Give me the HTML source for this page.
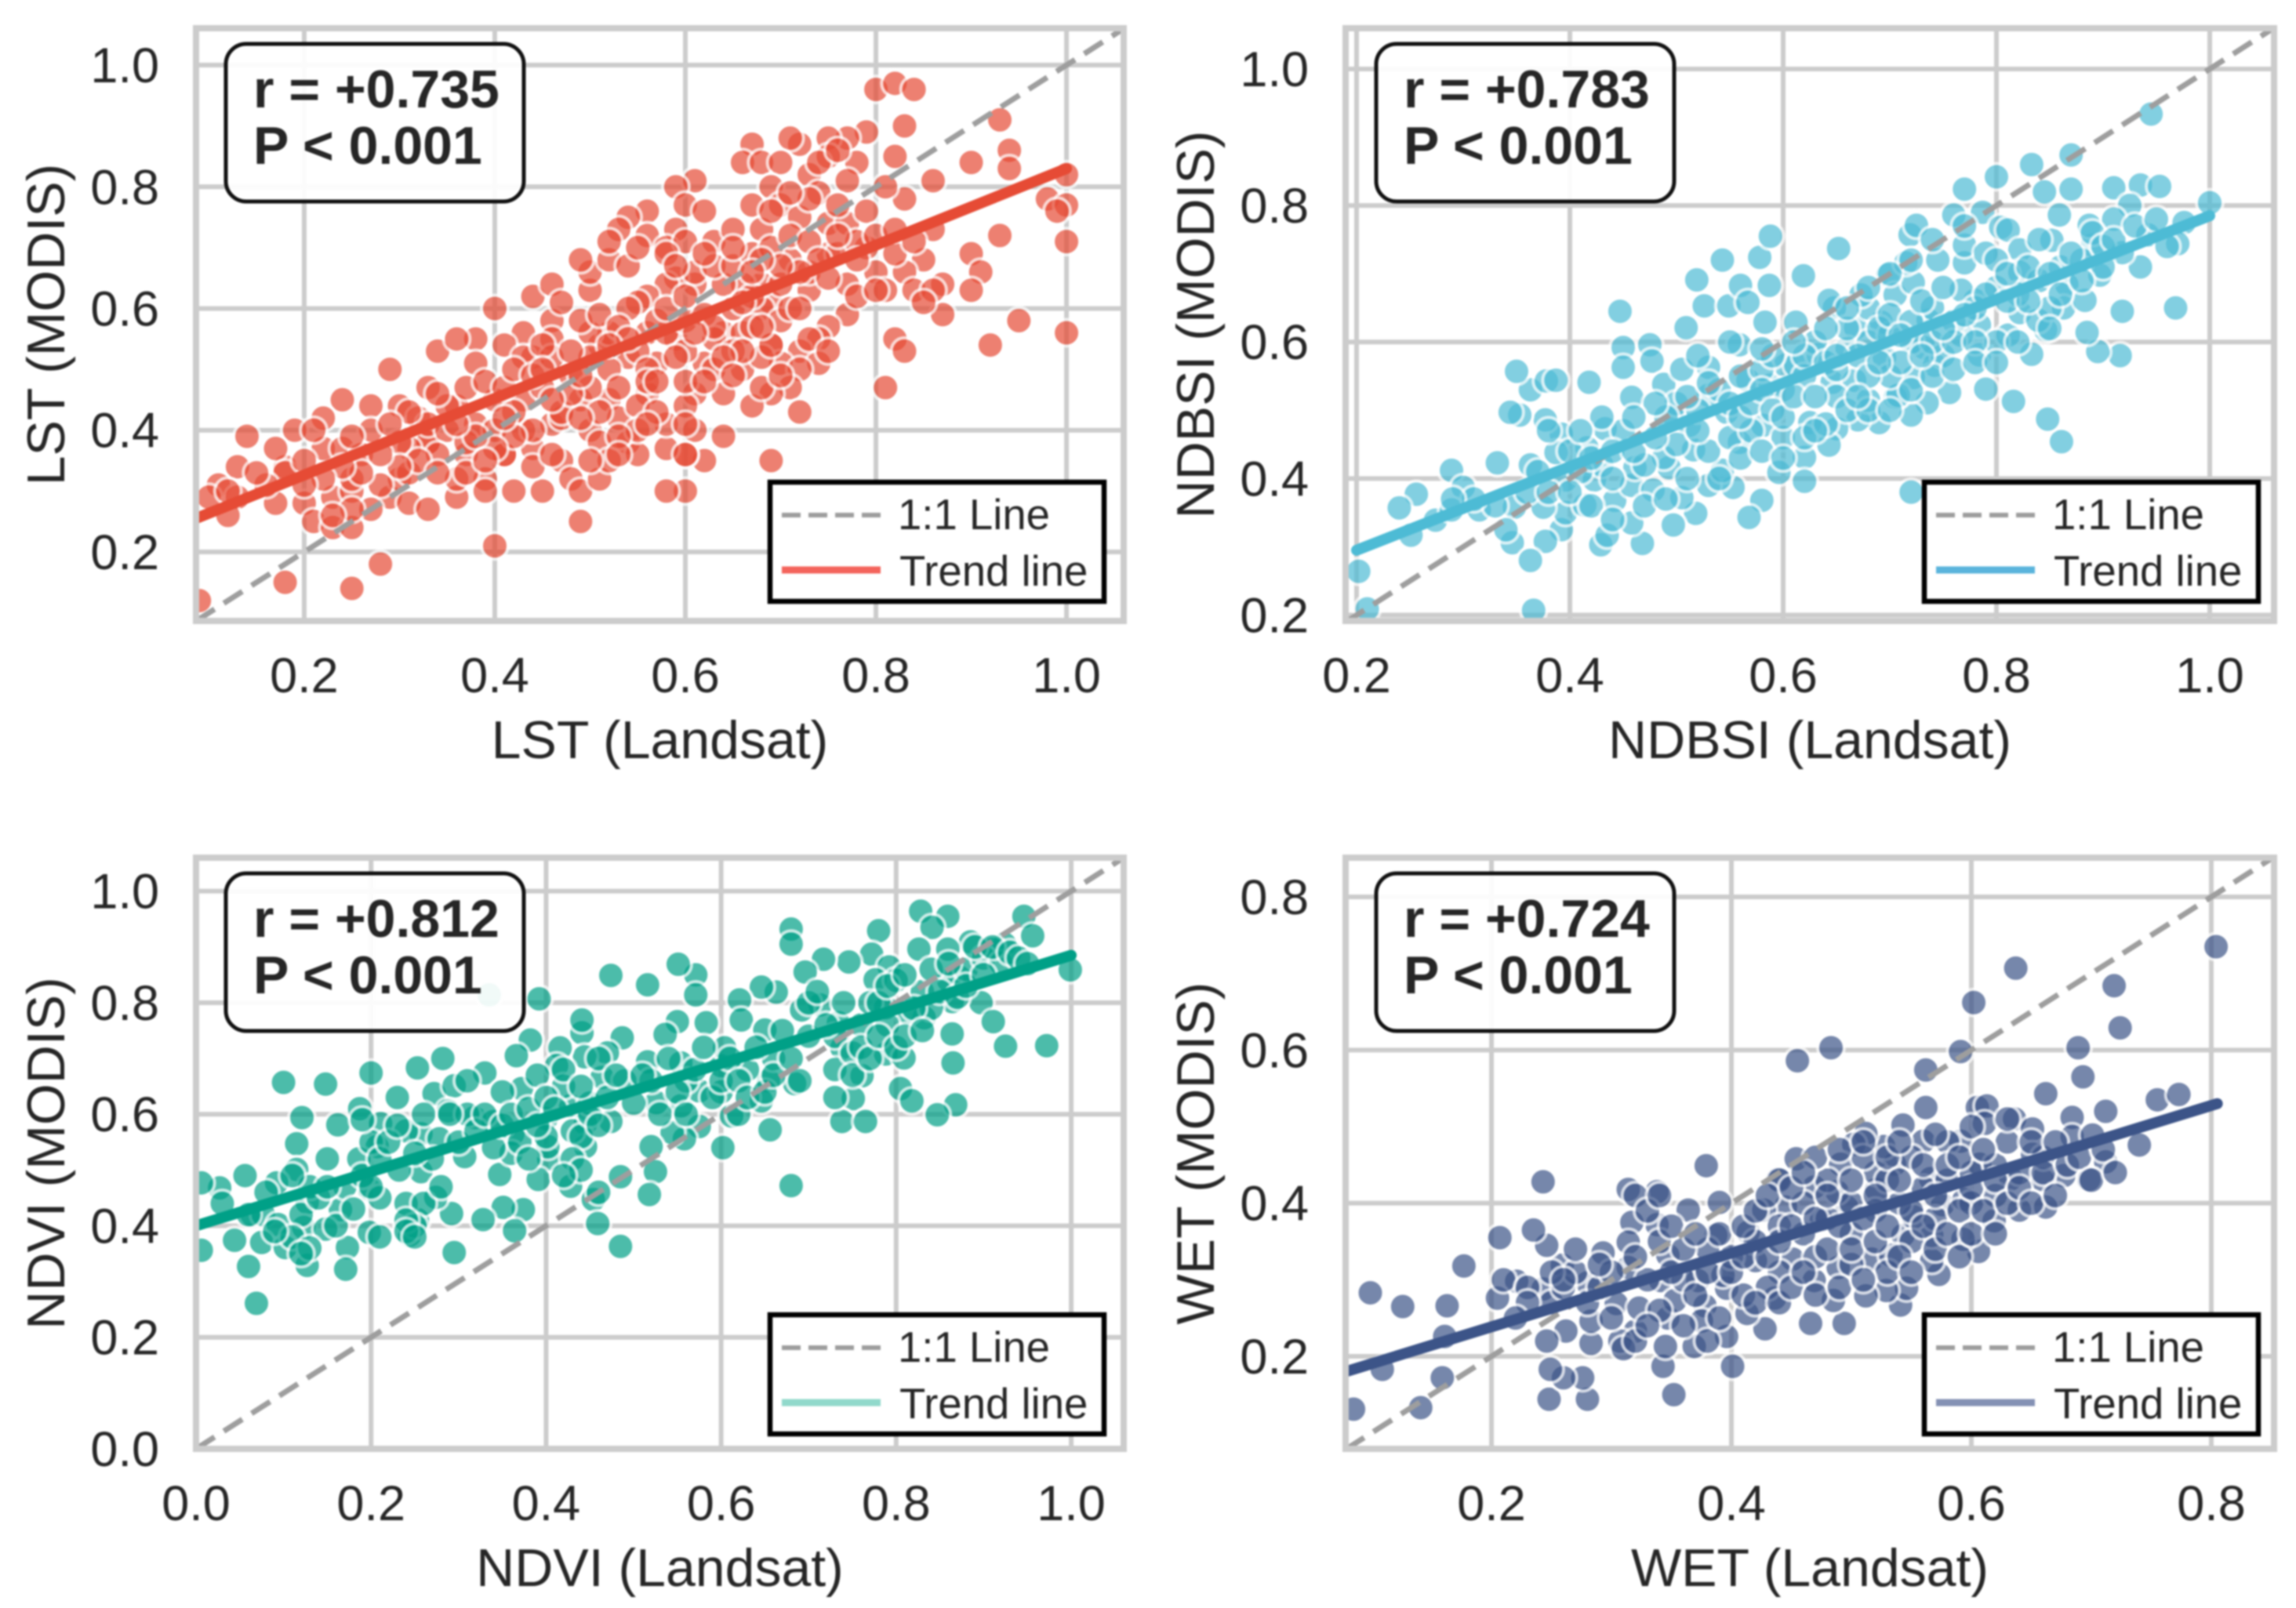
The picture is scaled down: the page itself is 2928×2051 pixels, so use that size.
<!DOCTYPE html>
<html>
<head>
<meta charset="utf-8">
<title>Landsat vs MODIS scatter panels</title>
<style>
html,body{margin:0;padding:0;background:#fff;}
svg{display:block;filter:blur(1.1px);}
text{font-family:"Liberation Sans",Arial,sans-serif;fill:#262626;}
</style>
</head>
<body>
<svg id="chart" xmlns="http://www.w3.org/2000/svg" width="2928" height="2051" viewBox="0 0 2928 2051"></svg>
<script>
const lstXTicks=[0.2,0.4,0.6,0.8,1.0];
const lstYTicks=[0.2,0.4,0.6,0.8,1.0];
const lstTrend=[[0.0865,0.255],[1.0,0.83]];
const lstPoints=[[.80,.96],[.82,.97],[.84,.96],[.83,.90],[.79,.89],[.77,.88],[.75,.88],[.72,.87],[.71,.88],[.67,.87],[.66,.84],[.68,.84],[.70,.84],[.73,.82],[.75,.85],[.78,.84],[.82,.85],[.93,.91],[.94,.86],[.90,.84],[1.0,.82],[.94,.83],[.98,.78],[1.0,.77],[.99,.76],[1.0,.71],[1.0,.56],[.95,.58],[.92,.54],[.93,.72],[.90,.69],[.91,.66],[.90,.63],[.87,.59],[.87,.64],[.85,.68],[.83,.66],[.86,.81],[.86,.73],[.83,.78],[.81,.80],[.77,.81],[.74,.79],[.69,.80],[.67,.77],[.61,.81],[.59,.80],[.60,.77],[.62,.76],[.56,.76],[.54,.75],[.53,.73],[.56,.72],[.59,.73],[.58,.70],[.60,.71],[.63,.71],[.65,.73],[.68,.73],[.70,.77],[.72,.75],[.75,.74],[.77,.74],[.79,.76],[.76,.77],[.71,.68],[.79,.70],[.82,.69],[.80,.66],[.81,.63],[.84,.63],[.86,.63],[.82,.55],[.83,.53],[.81,.47],[.77,.59],[.75,.57],[.77,.64],[.75,.69],[.73,.63],[.69,.61],[.68,.60],[.70,.58],[.74,.55],[.72,.53],[.69,.54],[.70,.51],[.74,.51],[.72,.50],[.71,.47],[.69,.46],[.72,.43],[.69,.35],[.67,.44],[.66,.50],[.68,.52],[.64,.39],[.62,.35],[.60,.36],[.60,.30],[.58,.30],[.61,.40],[.61,.46],[.64,.46],[.64,.56],[.66,.56],[.68,.64],[.66,.64],[.64,.64],[.61,.64],[.59,.65],[.58,.64],[.56,.62],[.55,.61],[.54,.60],[.56,.56],[.51,.54],[.52,.56],[.50,.56],[.46,.58],[.43,.56],[.40,.60],[.44,.62],[.46,.64],[.47,.61],[.50,.63],[.50,.66],[.49,.68],[.52,.68],[.54,.67],[.58,.69],[.44,.52],[.46,.55],[.41,.54],[.38,.55],[.34,.53],[.36,.55],[.38,.51],[.43,.52],[.46,.52],[.50,.52],[.54,.52],[.57,.51],[.59,.55],[.62,.51],[.63,.50],[.69,.54],[.33,.47],[.29,.50],[.27,.44],[.24,.45],[.22,.42],[.19,.40],[.27,.40],[.30,.44],[.32,.42],[.33,.38],[.36,.44],[.38,.41],[.40,.45],[.43,.45],[.46,.41],[.47,.42],[.50,.40],[.51,.38],[.54,.38],[.58,.37],[.58,.41],[.60,.44],[.60,.48],[.56,.46],[.52,.45],[.49,.45],[.53,.42],[.55,.44],[.41,.36],[.37,.36],[.33,.38],[.31,.37],[.30,.38],[.22,.37],[.18,.34],[.17,.37],[.14,.39],[.13,.34],[.11,.31],[.13,.29],[.10,.29],[.12,.26],[.17,.28],[.20,.28],[.21,.25],[.23,.24],[.25,.24],[.23,.29],[.25,.30],[.25,.32],[.29,.29],[.30,.32],[.31,.28],[.33,.27],[.36,.29],[.36,.32],[.39,.32],[.39,.30],[.42,.30],[.45,.30],[.44,.37],[.47,.35],[.48,.32],[.49,.30],[.51,.32],[.52,.35],[.55,.36],[.60,.36],[.49,.25],[.40,.21],[.28,.18],[.18,.15],[.25,.14],[.09,.12],[.41,.36],[.43,.40],[.35,.44],[.33,.41],[.24,.37],[.18,.33],[.45,.47],[.48,.49],[.52,.50],[.55,.53],[.58,.56],[.60,.58],[.62,.59],[.65,.60],[.67,.62],[.70,.64],[.73,.66],[.76,.69],[.78,.71],[.47,.43],[.50,.47],[.53,.47],[.56,.50],[.60,.53],[.63,.55],[.65,.53],[.67,.57],[.71,.60],[.40,.40],[.42,.43],[.35,.40],[.37,.38],[.31,.33],[.28,.31],[.26,.36],[.20,.35],[.16,.31],[.34,.46],[.37,.47],[.39,.48],[.41,.47],[.42,.50],[.44,.49],[.45,.54],[.48,.53],[.49,.58],[.51,.59],[.53,.57],[.54,.55],[.57,.58],[.58,.60],[.60,.62],[.61,.66],[.63,.67],[.65,.67],[.67,.69],[.69,.70],[.71,.72],[.73,.71],[.74,.68],[.76,.72],[.78,.68],[.80,.72],[.82,.73],[.84,.71],[.85,.61],[.72,.60],[.68,.57],[.66,.53],[.64,.52],[.62,.48],[.60,.41],[.57,.43],[.55,.40],[.53,.39],[.51,.43],[.49,.42],[.48,.46],[.46,.45],[.44,.40],[.42,.39],[.40,.37],[.38,.39],[.36,.41],[.34,.36],[.32,.35],[.30,.34],[.28,.36],[.26,.33],[.24,.34],[.22,.32],[.20,.31],[.27,.27],[.25,.27],[.23,.26],[.34,.33],[.37,.33],[.39,.35],[.44,.34],[.46,.36],[.50,.35],[.53,.36],[.56,.41],[.56,.48],[.52,.54],[.49,.49],[.45,.50],[.41,.42],[.31,.43],[.29,.41],[.25,.39],[.21,.40],[.15,.33],[.12,.30],[.75,.65],[.78,.62],[.80,.63],[.72,.66],[.70,.67],[.68,.68],[.65,.70],[.62,.69],[.59,.67],[.55,.70],[.52,.71],[.73,.78],[.71,.79],[.69,.76],[.74,.84],[.76,.86],[.67,.66],[.66,.61],[.63,.57],[.61,.56],[.59,.52],[.57,.48],[.65,.49],[.68,.47],[.70,.49],[.73,.55],[.75,.53]];

const ndbsiXTicks=[0.2,0.4,0.6,0.8,1.0];
const ndbsiYTicks=[0.2,0.4,0.6,0.8,1.0];
const ndbsiTrend=[[0.2,0.295],[1.0,0.785]];
const ndbsiPoints=[[.945,.934],[.87,.874],[.833,.86],[.80,.842],[.77,.824],[.845,.82],[.87,.824],[.91,.826],[.935,.83],[.953,.828],[1.0,.804],[.925,.80],[.976,.775],[.97,.744],[.935,.71],[.918,.645],[.968,.65],[.916,.58],[.895,.586],[.885,.614],[.861,.454],[.848,.487],[.816,.513],[.79,.531],[.833,.582],[.72,.38],[.756,.526],[.735,.511],[.72,.493],[.705,.519],[.69,.482],[.67,.486],[.65,.473],[.643,.449],[.625,.482],[.62,.431],[.62,.396],[.596,.409],[.58,.368],[.568,.343],[.553,.387],[.53,.39],[.518,.349],[.505,.372],[.497,.332],[.468,.305],[.458,.335],[.442,.368],[.429,.303],[.435,.317],[.392,.325],[.377,.308],[.396,.35],[.414,.361],[.375,.358],[.396,.398],[.423,.398],[.458,.39],[.478,.383],[.493,.416],[.461,.416],[.516,.442],[.488,.431],[.543,.412],[.559,.453],[.581,.478],[.416,.445],[.433,.473],[.392,.465],[.387,.438],[.377,.486],[.353,.493],[.344,.497],[.363,.53],[.35,.557],[.378,.543],[.387,.544],[.418,.541],[.447,.645],[.45,.592],[.45,.563],[.475,.596],[.477,.572],[.458,.519],[.488,.538],[.505,.56],[.53,.563],[.543,.72],[.509,.621],[.519,.691],[.526,.653],[.549,.653],[.56,.683],[.567,.658],[.578,.724],[.588,.755],[.587,.683],[.583,.629],[.619,.697],[.652,.737],[.612,.629],[.559,.596],[.567,.544],[.53,.522],[.547,.497],[.512,.478],[.497,.493],[.588,.537],[.602,.566],[.612,.566],[.633,.581],[.646,.541],[.667,.544],[.68,.515],[.695,.577],[.692,.629],[.668,.621],[.68,.65],[.648,.65],[.643,.661],[.673,.669],[.698,.698],[.705,.669],[.722,.687],[.719,.757],[.725,.771],[.715,.716],[.745,.72],[.76,.786],[.787,.79],[.804,.768],[.811,.764],[.77,.716],[.77,.742],[.822,.735],[.822,.702],[.852,.749],[.89,.742],[.887,.771],[.91,.78],[.918,.731],[.942,.757],[.859,.786],[.866,.684],[.863,.65],[.846,.618],[.811,.61],[.784,.625],[.78,.661],[.767,.676],[.736,.632],[.732,.592],[.742,.566],[.784,.581],[.722,.548],[.708,.522],[.767,.61],[.822,.643],[.883,.661],[.839,.632],[.897,.698],[.332,.423],[.289,.412],[.30,.387],[.256,.377],[.24,.357],[.251,.317],[.274,.339],[.289,.354],[.315,.354],[.363,.42],[.348,.358],[.346,.306],[.363,.28],[.366,.207],[.202,.264],[.21,.209],[.34,.325],[.45,.47],[.5,.51],[.52,.5],[.54,.53],[.56,.55],[.58,.56],[.6,.53],[.62,.55],[.63,.6],[.66,.59],[.68,.6],[.7,.61],[.72,.6],[.74,.65],[.76,.63],[.78,.65],[.8,.68],[.82,.67],[.84,.69],[.86,.71],[.88,.72],[.9,.71],[.5,.45],[.53,.44],[.47,.42],[.43,.42],[.41,.41],[.55,.46],[.57,.47],[.6,.46],[.65,.52],[.7,.55],[.75,.58],[.8,.6],[.85,.65],[.38,.47],[.40,.44],[.42,.43],[.44,.44],[.44,.40],[.46,.44],[.48,.46],[.49,.49],[.51,.52],[.52,.47],[.53,.54],[.55,.51],[.56,.49],[.57,.51],[.58,.53],[.59,.5],[.6,.49],[.59,.58],[.61,.52],[.62,.58],[.63,.52],[.64,.57],[.65,.56],[.66,.62],[.67,.58],[.68,.55],[.69,.62],[.7,.64],[.71,.57],[.72,.63],[.73,.66],[.74,.6],[.75,.68],[.76,.6],[.77,.64],[.78,.6],[.79,.67],[.79,.73],[.8,.72],[.81,.66],[.81,.7],[.83,.66],[.83,.71],[.84,.75],[.85,.62],[.85,.7],[.86,.67],[.87,.73],[.88,.69],[.89,.76],[.9,.74],[.91,.75],[.93,.77],[.95,.78],[.96,.74],[.77,.77],[.74,.75],[.72,.72],[.7,.7],[.68,.68],[.66,.65],[.64,.62],[.61,.6],[.58,.59],[.55,.6],[.52,.58],[.48,.51],[.46,.49],[.43,.49],[.41,.47],[.37,.41],[.36,.38],[.38,.38],[.4,.38],[.42,.36],[.44,.34],[.47,.36],[.49,.37],[.51,.4],[.54,.4],[.56,.43],[.58,.44],[.6,.43],[.62,.46],[.64,.48],[.66,.5],[.68,.5],[.7,.5],[.72,.53],[.74,.55],[.76,.56],[.78,.57],[.8,.57],[.82,.6],[.63,.47],[.71,.61],[.73,.58],[.75,.62],[.69,.57],[.67,.52],[.65,.58],[.33,.36],[.31,.37],[.29,.37]];

const ndviXTicks=[0.0,0.2,0.4,0.6,0.8,1.0];
const ndviYTicks=[0.0,0.2,0.4,0.6,0.8,1.0];
const ndviTrend=[[0.0,0.40],[1.0,0.885]];
const ndviPoints=[[.828,.964],[.859,.955],[.841,.935],[.946,.955],[.956,.92],[.885,.909],[.826,.896],[.859,.896],[.924,.905],[.91,.896],[.78,.929],[.772,.887],[.792,.864],[.746,.873],[.776,.841],[.717,.878],[.696,.855],[.68,.932],[.68,.905],[.999,.859],[.872,.846],[.864,.802],[.897,.80],[.911,.766],[.864,.744],[.865,.692],[.868,.617],[.847,.599],[.925,.722],[.972,.723],[.832,.773],[.813,.782],[.788,.791],[.788,.708],[.809,.701],[.805,.646],[.818,.624],[.761,.669],[.738,.719],[.751,.628],[.738,.587],[.765,.587],[.734,.764],[.713,.796],[.692,.787],[.663,.819],[.646,.828],[.621,.805],[.623,.769],[.65,.751],[.684,.655],[.654,.66],[.68,.472],[.656,.572],[.646,.624],[.612,.597],[.602,.54],[.575,.578],[.558,.556],[.544,.567],[.554,.615],[.575,.642],[.526,.621],[.516,.694],[.554,.692],[.60,.687],[.604,.719],[.583,.764],[.55,.766],[.536,.743],[.571,.85],[.551,.869],[.516,.832],[.474,.849],[.571,.814],[.392,.807],[.335,.814],[.487,.737],[.47,.71],[.441,.746],[.441,.769],[.444,.703],[.416,.719],[.412,.687],[.382,.733],[.366,.705],[.372,.646],[.33,.674],[.282,.70],[.253,.683],[.272,.637],[.295,.651],[.23,.63],[.20,.674],[.187,.61],[.162,.581],[.121,.594],[.148,.654],[.10,.657],[.115,.547],[.211,.583],[.207,.542],[.257,.565],[.318,.594],[.288,.606],[.34,.587],[.428,.615],[.464,.666],[.474,.587],[.445,.583],[.445,.542],[.403,.52],[.402,.542],[.347,.492],[.391,.483],[.428,.471],[.454,.447],[.485,.488],[.52,.542],[.525,.497],[.518,.456],[.459,.404],[.485,.363],[.374,.429],[.351,.433],[.364,.391],[.328,.411],[.295,.352],[.292,.422],[.274,.451],[.244,.383],[.253,.411],[.257,.497],[.198,.465],[.198,.388],[.173,.361],[.171,.322],[.165,.429],[.127,.442],[.115,.501],[.15,.52],[.092,.477],[.056,.49],[.027,.468],[.006,.477],[.064,.42],[.077,.42],[.094,.402],[.123,.397],[.148,.394],[.044,.374],[.075,.37],[.102,.361],[.127,.329],[.06,.327],[.006,.356],[.069,.261],[.307,.524],[.232,.50],[.186,.52],[.278,.556],[.362,.565],[.40,.592],[.2,.55],[.24,.57],[.27,.52],[.31,.6],[.35,.64],[.39,.67],[.42,.65],[.45,.62],[.49,.66],[.52,.66],[.56,.66],[.6,.64],[.63,.68],[.66,.7],[.7,.74],[.73,.74],[.76,.76],[.79,.76],[.83,.82],[.86,.84],[.88,.86],[.9,.88],[.92,.87],[.8,.84],[.77,.8],[.84,.79],[.13,.47],[.17,.47],[.21,.45],[.24,.44],[.36,.53],[.4,.56],[.03,.44],[.08,.46],[.11,.49],[.12,.42],[.14,.45],[.16,.4],[.18,.43],[.19,.49],[.21,.52],[.22,.55],[.23,.58],[.25,.53],[.26,.6],[.26,.44],[.25,.4],[.24,.41],[.28,.47],[.29,.6],[.3,.55],[.31,.66],[.32,.57],[.33,.6],[.34,.54],[.35,.58],[.36,.6],[.37,.55],[.38,.61],[.39,.58],[.4,.63],[.41,.61],[.42,.68],[.43,.57],[.44,.65],[.44,.56],[.45,.6],[.46,.58],[.46,.7],[.47,.63],[.48,.67],[.5,.62],[.51,.67],[.53,.6],[.54,.7],[.55,.64],[.56,.6],[.57,.68],[.58,.72],[.59,.63],[.6,.66],[.61,.7],[.62,.66],[.62,.6],[.63,.63],[.64,.72],[.65,.64],[.66,.67],[.67,.75],[.68,.7],[.69,.66],[.7,.8],[.71,.82],[.72,.76],[.73,.68],[.73,.63],[.74,.8],[.75,.71],[.75,.67],[.76,.72],[.77,.7],[.78,.8],[.78,.74],[.79,.83],[.8,.72],[.81,.85],[.81,.74],[.82,.79],[.83,.75],[.84,.86],[.85,.82],[.86,.87],[.87,.81],[.88,.83],[.89,.9],[.9,.85],[.91,.9],[.93,.89],[.94,.88],[.95,.87],[.19,.59],[.2,.47],[.15,.47],[.11,.38],[.13,.36],[.12,.35],[.09,.39],[.06,.42],[.21,.38],[.24,.39],[.25,.38],[.38,.52],[.43,.52],[.44,.5],[.42,.49],[.46,.46]];

const wetXTicks=[0.2,0.4,0.6,0.8];
const wetYTicks=[0.2,0.4,0.6,0.8];
const wetTrend=[[0.0785,0.18],[0.805,0.53]];
const wetPoints=[[.804,.735],[.637,.707],[.719,.684],[.602,.662],[.724,.629],[.689,.603],[.483,.603],[.455,.586],[.591,.598],[.562,.574],[.693,.565],[.662,.543],[.755,.535],[.773,.542],[.712,.52],[.562,.525],[.605,.525],[.613,.527],[.611,.504],[.543,.502],[.636,.51],[.651,.497],[.684,.512],[.684,.487],[.701,.489],[.74,.476],[.712,.454],[.698,.431],[.677,.436],[.662,.395],[.659,.431],[.651,.464],[.64,.391],[.633,.432],[.619,.377],[.606,.337],[.593,.353],[.573,.307],[.567,.325],[.567,.358],[.541,.267],[.546,.289],[.529,.286],[.512,.279],[.494,.243],[.466,.243],[.485,.273],[.469,.299],[.489,.316],[.517,.327],[.543,.358],[.533,.332],[.552,.382],[.576,.398],[.594,.405],[.607,.451],[.591,.481],[.566,.432],[.56,.481],[.536,.451],[.527,.474],[.512,.491],[.502,.477],[.491,.451],[.521,.418],[.496,.395],[.475,.378],[.488,.415],[.469,.421],[.454,.458],[.439,.431],[.445,.395],[.427,.391],[.414,.362],[.451,.327],[.436,.276],[.428,.236],[.413,.256],[.396,.289],[.396,.226],[.401,.187],[.369,.213],[.378,.266],[.372,.299],[.387,.358],[.39,.401],[.364,.391],[.379,.449],[.338,.415],[.338,.372],[.314,.418],[.317,.375],[.314,.349],[.293,.335],[.314,.316],[.347,.332],[.341,.299],[.28,.296],[.259,.319],[.246,.345],[.235,.365],[.207,.355],[.243,.428],[.177,.318],[.221,.298],[.243,.288],[.205,.276],[.163,.266],[.126,.265],[.099,.283],[.161,.226],[.109,.183],[.159,.172],[.141,.133],[.085,.131],[.248,.144],[.28,.144],[.276,.172],[.26,.172],[.249,.183],[.352,.15],[.343,.187],[.345,.213],[.32,.233],[.307,.22],[.283,.217],[.283,.246],[.262,.233],[.246,.22],[.304,.269],[.323,.263],[.347,.25],[.375,.246],[.353,.273],[.393,.306],[.42,.325],[.42,.35],[.44,.37],[.46,.36],[.48,.38],[.5,.4],[.5,.36],[.52,.39],[.54,.4],[.56,.42],[.58,.43],[.6,.44],[.62,.45],[.64,.44],[.66,.46],[.55,.35],[.57,.38],[.6,.4],[.62,.41],[.44,.31],[.47,.33],[.5,.32],[.53,.31],[.4,.33],[.38,.34],[.36,.3],[.34,.26],[.43,.29],[.41,.28],[.48,.43],[.52,.44],[.55,.46],[.58,.48],[.63,.48],[.46,.4],[.44,.43],[.47,.46],[.51,.46],[.53,.43],[.21,.3],[.23,.29],[.25,.27],[.26,.29],[.27,.31],[.28,.27],[.29,.29],[.3,.25],[.31,.21],[.32,.22],[.33,.24],[.33,.3],[.34,.35],[.35,.31],[.36,.24],[.36,.34],[.37,.28],[.38,.22],[.38,.31],[.39,.36],[.39,.25],[.4,.31],[.41,.33],[.41,.37],[.42,.27],[.42,.39],[.43,.33],[.43,.41],[.44,.27],[.44,.35],[.45,.29],[.45,.37],[.45,.42],[.46,.31],[.46,.44],[.47,.38],[.47,.28],[.48,.34],[.48,.41],[.49,.29],[.49,.37],[.49,.47],[.5,.34],[.5,.43],[.51,.3],[.51,.38],[.51,.48],[.52,.35],[.52,.41],[.53,.37],[.53,.46],[.54,.33],[.54,.43],[.54,.48],[.55,.31],[.55,.39],[.56,.37],[.56,.45],[.57,.34],[.57,.41],[.57,.49],[.58,.36],[.58,.45],[.59,.33],[.59,.39],[.59,.46],[.6,.36],[.6,.42],[.6,.5],[.61,.39],[.61,.47],[.62,.36],[.62,.43],[.63,.4],[.63,.51],[.64,.42],[.65,.4],[.65,.48],[.66,.44],[.67,.41],[.67,.48],[.68,.45],[.69,.46],[.7,.43],[.71,.47],[.72,.44],[.32,.41],[.33,.39],[.34,.41],[.32,.33],[.35,.37],[.37,.36],[.3,.31],[.27,.34],[.25,.31],[.23,.27],[.22,.25],[.26,.3],[.29,.32]];

const SVGNS='http://www.w3.org/2000/svg';
const root=document.getElementById('chart');
function mk(parent,tag,props,txt){
  const el=document.createElementNS(SVGNS,tag);
  for(const k in props){el.setAttribute(k,props[k]);}
  if(txt!==undefined){el.textContent=txt;}
  parent.appendChild(el);
  return el;
}
const GRID='#cccccc';

function drawPanel(cfg){
  const sx=v=>cfg.left+(v-cfg.xLim[0])/(cfg.xLim[1]-cfg.xLim[0])*(cfg.right-cfg.left);
  const sy=v=>cfg.bottom-(v-cfg.yLim[0])/(cfg.yLim[1]-cfg.yLim[0])*(cfg.bottom-cfg.top);
  const g=mk(root,'g',{});
  
  
  const clipId='clip-'+cfg.key;
  const defs=mk(g,'defs',{});
  const cp=mk(defs,'clipPath',{id:clipId});
  mk(cp,'rect',{x:cfg.left,y:cfg.top,width:cfg.right-cfg.left,height:cfg.bottom-cfg.top});

  cfg.xTicks.forEach(t=>{
    const l=mk(g,'line',{x1:sx(t),x2:sx(t),y1:cfg.top,y2:cfg.bottom,stroke:GRID,'stroke-width':6});
    
    
    const lab=mk(g,'text',{x:sx(t),y:cfg.bottom+91,'font-size':63,'text-anchor':'middle'},t.toFixed(1));
    
    
  });
  cfg.yTicks.forEach(t=>{
    const l=mk(g,'line',{x1:cfg.left,x2:cfg.right,y1:sy(t),y2:sy(t),stroke:GRID,'stroke-width':6});
    
    
    const lab=mk(g,'text',{x:cfg.left-47,y:sy(t)+22,'font-size':63,'text-anchor':'end'},t.toFixed(1));
    
    
  });

  const marks=mk(g,'g',{'clip-path':'url(#'+clipId+')'});
  
  
  cfg.points.forEach(p=>{
    const c=mk(marks,'circle',{cx:sx(p[0]),cy:sy(p[1]),r:17,fill:cfg.color,stroke:'#ffffff','stroke-width':4,opacity:0.7});
    
    
  });
  const one=mk(marks,'line',{x1:sx(cfg.xLim[0]),y1:sy(cfg.xLim[0]),x2:sx(cfg.xLim[1]),y2:sy(cfg.xLim[1]),stroke:'#9e9e9e','stroke-width':7,'stroke-dasharray':'28 14'});
  
  
  const tr=mk(marks,'line',{x1:sx(cfg.trend[0][0]),y1:sy(cfg.trend[0][1]),x2:sx(cfg.trend[1][0]),y2:sy(cfg.trend[1][1]),stroke:cfg.color,'stroke-width':14,'stroke-linecap':'round'});
  
  

  const frame=mk(g,'rect',{x:cfg.left,y:cfg.top,width:cfg.right-cfg.left,height:cfg.bottom-cfg.top,fill:'none',stroke:GRID,'stroke-width':8});
  
  

  const xt=mk(g,'text',{x:(cfg.left+cfg.right)/2+(cfg.xLabelShift||0),y:cfg.bottom+175,'font-size':68,'text-anchor':'middle'},cfg.xLabel);
  
  
  const yx=cfg.left-168, yy=(cfg.top+cfg.bottom)/2;
  const yt=mk(g,'text',{x:yx,y:yy,'font-size':68,'text-anchor':'middle',transform:'rotate(-90 '+yx+' '+yy+')'},cfg.yLabel);
  
  

  const ax=cfg.left+38+cfg.boxShift, ay=cfg.top+20;
  const ann=mk(g,'g',{});
  
  
  mk(ann,'rect',{x:ax,y:ay,width:380,height:201,rx:26,ry:26,fill:'#ffffff','fill-opacity':0.92,stroke:'#111111','stroke-width':5});
  const r1=mk(ann,'text',{x:ax+35,y:ay+81,'font-size':68,'font-weight':'bold'},cfg.rText);
  
  
  const r2=mk(ann,'text',{x:ax+35,y:ay+153,'font-size':68,'font-weight':'bold'},'P < 0.001');
  
  

  const lx=cfg.left+732+cfg.legendShift, ly=cfg.bottom-177+cfg.legendY;
  const lg=mk(g,'g',{});
  
  
  mk(lg,'rect',{x:lx,y:ly,width:426,height:152,fill:'#ffffff',stroke:'#000000','stroke-width':6.5});
  const s1=mk(lg,'line',{x1:lx+15,x2:lx+141,y1:ly+42,y2:ly+42,stroke:'#9e9e9e','stroke-width':6,'stroke-dasharray':'24 10'});
  
  
  const t1=mk(lg,'text',{x:lx+163,y:ly+60,'font-size':54.5},'1:1 Line');
  
  
  const s2=mk(lg,'line',{x1:lx+15,x2:lx+141,y1:ly+112,y2:ly+112,stroke:cfg.legendColor,'stroke-width':9});
  
  
  const t2=mk(lg,'text',{x:lx+165,y:ly+132,'font-size':54.5},'Trend line');
  
  
}

drawPanel({key:'lst',left:250,right:1433,top:36,bottom:792,xLim:[0.0865,1.06],yLim:[0.0866,1.0606],xTicks:lstXTicks,yTicks:lstYTicks,points:lstPoints,trend:lstTrend,color:'#E64B35',legendColor:'#F4645C',xLabel:'LST (Landsat)',yLabel:'LST (MODIS)',rText:'r = +0.735',boxShift:0,legendShift:0,legendY:0});
drawPanel({key:'ndbsi',left:1716,right:2900,top:36,bottom:792,xLim:[0.1897,1.0603],yLim:[0.1914,1.0597],xTicks:ndbsiXTicks,yTicks:ndbsiYTicks,points:ndbsiPoints,trend:ndbsiTrend,color:'#4DBBD5',legendColor:'#5AB4DC',xLabel:'NDBSI (Landsat)',yLabel:'NDBSI (MODIS)',rText:'r = +0.783',boxShift:1,legendShift:6,legendY:0});
drawPanel({key:'ndvi',left:250,right:1433,top:1094,bottom:1848,xLim:[0,1.06],yLim:[0,1.06],xTicks:ndviXTicks,yTicks:ndviYTicks,points:ndviPoints,trend:ndviTrend,color:'#00A087',legendColor:'#91D9CB',xLabel:'NDVI (Landsat)',yLabel:'NDVI (MODIS)',rText:'r = +0.812',boxShift:0,legendShift:0,legendY:6});
drawPanel({key:'wet',left:1716,right:2900,top:1094,bottom:1848,xLim:[0.0784,0.8523],yLim:[0.0792,0.8512],xTicks:wetXTicks,yTicks:wetYTicks,points:wetPoints,trend:wetTrend,color:'#3C5488',legendColor:'#8491B4',xLabel:'WET (Landsat)',yLabel:'WET (MODIS)',rText:'r = +0.724',boxShift:1,legendShift:6,legendY:6});
</script>
</body>
</html>
